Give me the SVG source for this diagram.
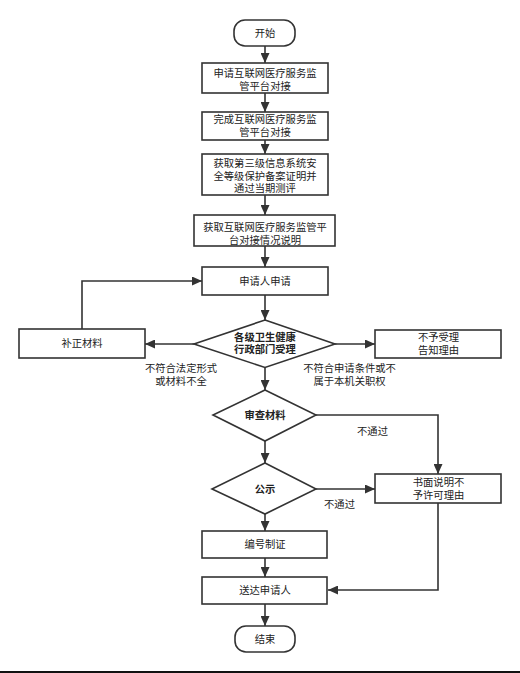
<svg xmlns="http://www.w3.org/2000/svg" width="520" height="673" viewBox="0 0 520 673">
<defs>
<marker id="arr" markerUnits="userSpaceOnUse" markerWidth="11" markerHeight="9" refX="10" refY="4.5" orient="auto">
<path d="M0,0 L10,4.5 L0,9 z" fill="#333"/>
</marker>
<style>
.box{fill:#fff;stroke:#333;stroke-width:1.6}
.t{font-family:"Liberation Sans","Noto Sans CJK SC",sans-serif;font-size:10.3px;fill:#222;text-anchor:middle;dominant-baseline:central}
.b{font-weight:bold}
.c{fill:none;stroke:#333;stroke-width:1.6}
</style>
</defs>
<rect width="520" height="673" fill="#fff"/>
<g id="connectors">
<line class="c" x1="265" y1="46" x2="265" y2="63" marker-end="url(#arr)"/>
<line class="c" x1="265" y1="93" x2="265" y2="112" marker-end="url(#arr)"/>
<line class="c" x1="265" y1="140" x2="265" y2="154" marker-end="url(#arr)"/>
<line class="c" x1="265" y1="195" x2="265" y2="215" marker-end="url(#arr)"/>
<line class="c" x1="265" y1="246" x2="265" y2="267" marker-end="url(#arr)"/>
<line class="c" x1="265" y1="295" x2="265" y2="320" marker-end="url(#arr)"/>
<line class="c" x1="194" y1="344" x2="145" y2="344" marker-end="url(#arr)"/>
<polyline class="c" points="82,329 82,281 202,281" marker-end="url(#arr)"/>
<line class="c" x1="335" y1="344" x2="375" y2="344" marker-end="url(#arr)"/>
<line class="c" x1="265" y1="367.5" x2="265" y2="390" marker-end="url(#arr)"/>
<polyline class="c" points="316,415 438,415 438,474" marker-end="url(#arr)"/>
<line class="c" x1="265" y1="441" x2="265" y2="463" marker-end="url(#arr)"/>
<line class="c" x1="316" y1="489" x2="375" y2="489" marker-end="url(#arr)"/>
<line class="c" x1="265" y1="514" x2="265" y2="531" marker-end="url(#arr)"/>
<line class="c" x1="265" y1="558" x2="265" y2="577" marker-end="url(#arr)"/>
<polyline class="c" points="438,503 438,590 328,590" marker-end="url(#arr)"/>
<line class="c" x1="265" y1="604" x2="265" y2="626" marker-end="url(#arr)"/>
<text class="t" x="181" y="368">不符合法定形式</text>
<text class="t" x="181" y="381.5">或材料不全</text>
<text class="t" x="349.5" y="368">不符合申请条件或不</text>
<text class="t" x="349.5" y="381.5">属于本机关职权</text>
<text class="t" x="372.5" y="431">不通过</text>
<text class="t" x="339.5" y="504.3">不通过</text>
</g>
<g id="start">
<rect class="box" x="234" y="20" width="61" height="26" rx="11"/>
<text class="t" x="265" y="33">开始</text>
</g>
<g id="n1">
<rect class="box" x="202" y="63" width="126" height="30"/>
<text class="t" x="265" y="73.3">申请互联网医疗服务监</text>
<text class="t" x="265" y="86.7">管平台对接</text>
</g>
<g id="n2">
<rect class="box" x="202" y="112" width="126" height="28"/>
<text class="t" x="265" y="119.3">完成互联网医疗服务监</text>
<text class="t" x="265" y="132.5">管平台对接</text>
</g>
<g id="n3">
<rect class="box" x="202" y="154" width="126" height="41"/>
<text class="t" x="265" y="163.5">获取第三级信息系统安</text>
<text class="t" x="265" y="176">全等级保护备案证明并</text>
<text class="t" x="265" y="188.5">通过当期测评</text>
</g>
<g id="n4">
<rect class="box" x="194" y="215" width="141" height="31"/>
<text class="t" x="265" y="227.8">获取互联网医疗服务监管平</text>
<text class="t" x="265" y="240.3">台对接情况说明</text>
</g>
<g id="apply">
<rect class="box" x="202" y="267" width="126" height="28"/>
<text class="t" x="265" y="281">申请人申请</text>
</g>
<g id="accept">
<polygon class="box" points="265,320 335,344 265,367.5 194,344"/>
<text class="t b" x="265" y="337">各级卫生健康</text>
<text class="t b" x="265" y="349.7">行政部门受理</text>
</g>
<g id="supplement">
<rect class="box" x="19" y="329" width="126" height="29"/>
<text class="t" x="82" y="343.7">补正材料</text>
</g>
<g id="reject">
<rect class="box" x="375" y="330" width="126" height="28"/>
<text class="t" x="438.5" y="337.3">不予受理</text>
<text class="t" x="438.5" y="350.7">告知理由</text>
</g>
<g id="review">
<polygon class="box" points="265,390 316,415 265,441 213,415"/>
<text class="t b" x="265" y="415">审查材料</text>
</g>
<g id="publicize">
<polygon class="box" points="265,463 316,489 265,514 212,489"/>
<text class="t b" x="265" y="489">公示</text>
</g>
<g id="deny">
<rect class="box" x="375" y="474" width="126" height="29"/>
<text class="t" x="438.5" y="482.3">书面说明不</text>
<text class="t" x="438.5" y="495.7">予许可理由</text>
</g>
<g id="issue">
<rect class="box" x="202" y="531" width="125" height="27"/>
<text class="t" x="265" y="544.5">编号制证</text>
</g>
<g id="deliver">
<rect class="box" x="202" y="577" width="125" height="27"/>
<text class="t" x="265" y="590.5">送达申请人</text>
</g>
<g id="end">
<rect class="box" x="235" y="626" width="60" height="26" rx="11"/>
<text class="t" x="265" y="639">结束</text>
</g>
<line x1="0" y1="672" x2="520" y2="672" stroke="#111" stroke-width="2"/>
</svg>
